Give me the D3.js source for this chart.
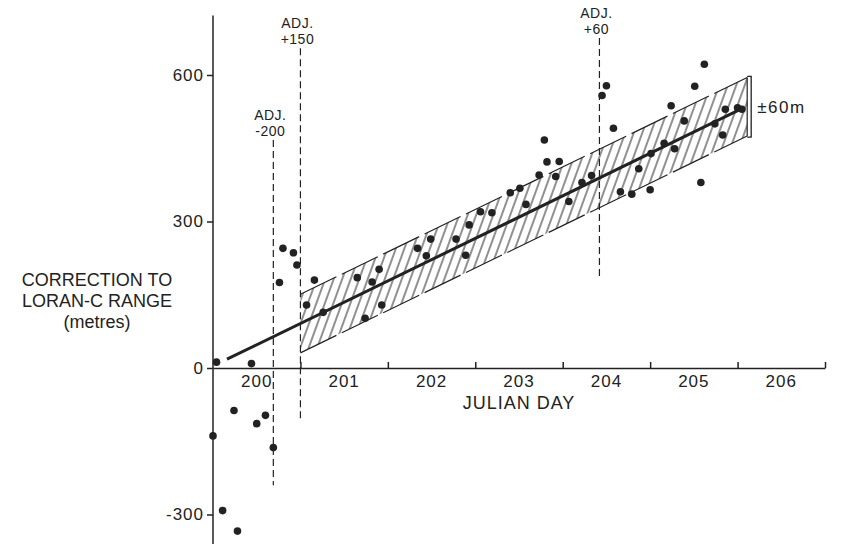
<!DOCTYPE html>
<html>
<head>
<meta charset="utf-8">
<script src="https://cdn.jsdelivr.net/npm/d3@7"></script>
<style>
  body { margin: 0; background: #fff; }
  svg text { font-family: "Liberation Sans", Arial, sans-serif; fill: #222; }
</style>
</head>
<body>
<div id="chart"></div>
<script>
const width = 841;
const height = 544;

// observations: julian day (fractional) and correction in metres
const obsDay = [200.04, 200.44, 200.24, 200.60, 200.50, 200.00, 200.69, 200.11, 200.28,
  200.80, 200.92, 200.96, 200.76, 201.16, 201.07, 201.26, 201.65, 201.82, 201.90,
  201.93, 201.74, 202.34, 202.49, 202.44, 202.78, 202.93, 202.89, 203.06, 203.19,
  203.40, 203.51, 203.58, 203.79, 203.73, 203.82, 203.96, 203.92, 204.07, 204.22,
  204.33, 204.45, 204.50, 204.58, 204.66, 204.79, 204.87, 205.00, 205.01, 205.16,
  205.28, 205.24, 205.39, 205.51, 205.62, 205.58, 205.74, 205.83, 205.86, 206.00, 206.05];
const obsCorr = [12, 9, -87, -97, -114, -139, -163, -292, -334,
  245, 236, 211, 175, 180, 129, 114, 185, 176, 202,
  129, 102, 245, 264, 230, 264, 293, 231, 320, 318,
  359, 368, 335, 467, 395, 422, 423, 392, 341, 380,
  394, 558, 578, 491, 361, 356, 408, 365, 439, 460,
  449, 537, 506, 577, 622, 380, 500, 477, 530, 533, 530];

// fitted line end points [day, metres]
const fitLine = [[200.16, 18], [206.06, 532]];

// +-60 m band corners
const bandDays = [201.0, 206.11];
const bandUpper = [151, 595];
const bandLower = [31, 475];

// adjustment markers
const adjDay = [200.69, 201.0, 204.42];
const adjTop = [467, 655, 676];
const adjBottom = [-240, -107, 186];
const adjText = ["-200", "+150", "+60"];

const xTickDays = [201, 202, 203, 204, 205, 206, 207];
const xLabelDays = [200, 201, 202, 203, 204, 205, 206];
const yTicks = [600, 300, 0, -300];

const svg = d3.select("#chart")
    .append("svg")
    .attr("width", width)
    .attr("height", height);

const x = d3.scaleLinear().domain([200, 207]).range([213, 825]);
const y = d3.scaleLinear().domain([0, 600]).range([368, 75]);

// hatch pattern for the band
const defs = svg.append("defs");
defs.append("pattern")
    .attr("id", "hatch")
    .attr("patternUnits", "userSpaceOnUse")
    .attr("width", 8)
    .attr("height", 8)
    .attr("patternTransform", "rotate(20)")
    .append("line")
    .attr("x1", 1).attr("y1", 0)
    .attr("x2", 1).attr("y2", 8)
    .attr("stroke", "#222")
    .attr("stroke-width", 1);

const bandPts = [
  [bandDays[0], bandUpper[0]], [bandDays[1], bandUpper[1]],
  [bandDays[1], bandLower[1]], [bandDays[0], bandLower[0]]
];
svg.append("polygon")
    .attr("points", bandPts.map(p => x(p[0]) + "," + y(p[1])).join(" "))
    .attr("fill", "url(#hatch)");

// band edges
[bandUpper, bandLower].forEach(function(b) {
  svg.append("line")
      .attr("x1", x(bandDays[0])).attr("y1", y(b[0]))
      .attr("x2", x(bandDays[1])).attr("y2", y(b[1]))
      .attr("stroke", "#222")
      .attr("stroke-width", 1.2)
      .attr("stroke-dasharray", "40,6");
});
svg.append("line")
    .attr("x1", x(bandDays[1])).attr("y1", y(bandUpper[1]))
    .attr("x2", x(bandDays[1])).attr("y2", y(bandLower[1]))
    .attr("stroke", "#222").attr("stroke-width", 1.2);

// bracket and label
const bx = x(bandDays[1]) + 4;
svg.append("path")
    .attr("d", `M${bx - 4},${y(bandUpper[1]) - 1}H${bx}V${y(bandLower[1]) + 1}H${bx - 4}`)
    .attr("fill", "none")
    .attr("stroke", "#222")
    .attr("stroke-width", 1.3);
svg.append("text")
    .attr("x", bx + 6)
    .attr("y", y((bandUpper[1] + bandLower[1]) / 2) + 6)
    .attr("font-size", 17)
    .attr("letter-spacing", 1.5)
    .text("±60m");

// adjustment lines
adjDay.forEach(function(d, i) {
  svg.append("line")
      .attr("x1", x(d)).attr("y1", y(adjTop[i]))
      .attr("x2", x(d)).attr("y2", y(adjBottom[i]))
      .attr("stroke", "#222")
      .attr("stroke-width", 1.2)
      .attr("stroke-dasharray", "7,4");
  const t = svg.append("text")
      .attr("text-anchor", "middle")
      .attr("font-size", 14)
      .attr("letter-spacing", 0.5);
  t.append("tspan").attr("x", x(d) - 3).attr("y", y(adjTop[i]) - 20).text("ADJ.");
  t.append("tspan").attr("x", x(d) - 3).attr("y", y(adjTop[i]) - 4).text(adjText[i]);
});

// axes
svg.append("line")
    .attr("x1", x(200)).attr("y1", y(722))
    .attr("x2", x(200)).attr("y2", y(-375))
    .attr("stroke", "#222").attr("stroke-width", 1.5);

const yAxis = svg.append("g")
    .attr("transform", `translate(${x(200)},0)`)
    .call(d3.axisLeft(y).tickValues(yTicks).tickSize(6).tickPadding(3).tickFormat(d => String(d)));
yAxis.select(".domain").remove();
yAxis.selectAll("line").attr("stroke", "#222").attr("stroke-width", 1.5);
yAxis.selectAll("text")
    .attr("font-size", 17)
    .attr("letter-spacing", 1)
    .attr("fill", "#222");

const xAxis = svg.append("g")
    .attr("transform", `translate(0,${y(0)})`)
    .call(d3.axisBottom(x).tickValues(xTickDays).tickSizeInner(-6).tickSizeOuter(0).tickFormat(""));
xAxis.select(".domain").attr("stroke", "#222").attr("stroke-width", 1.5);
xAxis.selectAll("line").attr("stroke", "#222").attr("stroke-width", 1.5);

svg.append("g")
    .selectAll("text")
    .data(xLabelDays)
    .join("text")
    .attr("x", d => x(d + 0.5))
    .attr("y", y(0) + 19)
    .attr("text-anchor", "middle")
    .attr("font-size", 17)
    .attr("letter-spacing", 1)
    .text(d => d);

svg.append("text")
    .attr("x", (x(200) + x(207)) / 2)
    .attr("y", y(0) + 41)
    .attr("text-anchor", "middle")
    .attr("font-size", 18)
    .attr("letter-spacing", 1)
    .text("JULIAN DAY");

const yLabel = svg.append("text")
    .attr("text-anchor", "middle")
    .attr("font-size", 18);
["CORRECTION TO", "LORAN-C RANGE", "(metres)"].forEach(function(s, i) {
  yLabel.append("tspan").attr("x", 97).attr("y", 286 + i * 21).text(s);
});

// fitted line
svg.append("line")
    .attr("x1", x(fitLine[0][0])).attr("y1", y(fitLine[0][1]))
    .attr("x2", x(fitLine[1][0])).attr("y2", y(fitLine[1][1]))
    .attr("stroke", "#222")
    .attr("stroke-width", 3);

// observations
svg.append("g")
    .selectAll("circle")
    .data(obsDay.map((d, i) => [d, obsCorr[i]]))
    .join("circle")
    .attr("cx", d => x(d[0]))
    .attr("cy", d => y(d[1]))
    .attr("r", 3.8)
    .attr("fill", "#222");
</script>
</body>
</html>
